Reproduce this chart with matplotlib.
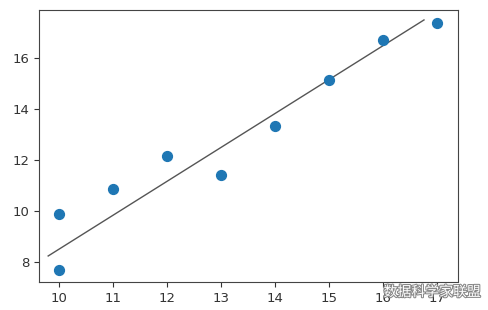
import matplotlib.pyplot as plt
import matplotlib.patheffects as pe

# scatter data
x = [10, 10, 11, 12, 13, 14, 15, 16, 17]
y = [9.88, 7.69, 10.86, 12.16, 11.41, 13.33, 15.14, 16.7, 17.37]

# fitted line endpoints
line_x = [9.8, 16.76]
line_y = [8.24, 17.49]

fig = plt.figure(figsize=(4.88, 3.10), dpi=100)
ax = fig.add_axes([39 / 488, 1 - 282 / 310, (458 - 39) / 488, (282 - 10) / 310])

ax.scatter(x, y, s=50, color='#1f77b4', zorder=3)
ax.plot(line_x, line_y, color='#555555', linewidth=1.0)

ax.set_xlim(9.63, 17.39)
ax.set_ylim(7.22, 17.88)
ax.set_xticks(range(10, 18))
ax.set_yticks([8, 10, 12, 14, 16])
ax.tick_params(labelsize=9.5, colors='#333333', length=3.5)
for s in ax.spines.values():
    s.set_color('#444444')

# watermark
fig.text(0.985, 0.035, '数据科学家联盟', family=['Noto Sans CJK SC', 'DejaVu Sans'],
         fontsize=10, color='white', ha='right', va='bottom',
         path_effects=[pe.withStroke(linewidth=1.5, foreground='#888888')])

fig.savefig('out.png', dpi=100)
